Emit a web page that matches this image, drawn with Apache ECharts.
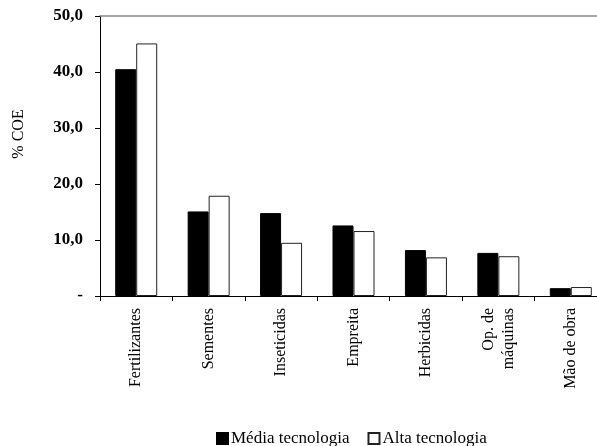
<!DOCTYPE html>
<html>
<head>
<meta charset="utf-8">
<script src="https://cdn.jsdelivr.net/npm/echarts@6/dist/echarts.min.js"></script>
<style>
  html, body { margin: 0; padding: 0; background: #fff; overflow: hidden; }
  /* o gráfico original está cortado à direita, por isso o div é mais largo que a janela */
  #chart { width: 608px; height: 446px; }
</style>
</head>
<body>
<div id="chart"></div>
<script>
  // categorias e valores (% COE)
  const categorias = ['Fertilizantes', 'Sementes', 'Inseticidas', 'Empreita', 'Herbicidas', 'Op. de\nmáquinas', 'Mão de obra'];
  const mediaTec = [40.5, 15.1, 14.8, 12.6, 8.2, 7.7, 1.4];
  const altaTec = [45.1, 17.9, 9.5, 11.6, 6.9, 7.1, 1.6];
  const yTicks = [0, 10, 20, 30, 40, 50];

  const fonte = 'Liberation Serif';
  const chart = echarts.init(document.getElementById('chart'));

  const option = {
    animation: false,
    textStyle: { fontFamily: fonte, color: '#000' },
    grid: { left: 100, top: 16, right: 1, bottom: 150 },
    legend: {
      left: 211,
      top: 425,
      itemWidth: 11,
      itemHeight: 11,
      itemGap: 18,
      textStyle: { fontFamily: fonte, fontSize: 17, color: '#000', padding: [0, 0, 0, -2] },
      data: [
        { name: 'Média tecnologia', icon: 'rect' },
        { name: 'Alta tecnologia', icon: 'rect' }
      ]
    },
    graphic: [{
      type: 'text',
      x: 19,
      y: 134,
      rotation: Math.PI / 2,
      style: {
        text: '% COE',
        fontFamily: fonte,
        fontSize: 16,
        fill: '#000',
        align: 'center',
        verticalAlign: 'middle'
      }
    }],
    xAxis: [{
      type: 'category',
      data: categorias,
      axisLine: { lineStyle: { color: '#000', width: 1 } },
      axisTick: { show: true, length: 5, lineStyle: { color: '#000' } },
      axisLabel: {
        rotate: 90,
        margin: 12,
        fontFamily: fonte,
        fontSize: 16,
        color: '#000',
        lineHeight: 20,
        align: 'right'
      }
    }, {
      // linha superior cinza
      type: 'category',
      position: 'top',
      data: categorias,
      axisLine: { show: true, lineStyle: { color: '#888', width: 1.5 } },
      axisTick: { show: false },
      axisLabel: { show: false }
    }],
    yAxis: {
      type: 'value',
      min: 0,
      max: 50,
      interval: 10,
      axisLine: { show: true, lineStyle: { color: '#000' } },
      axisTick: { show: true, length: 5, lineStyle: { color: '#000' } },
      splitLine: { show: false },
      axisLabel: {
        margin: 17,
        fontFamily: fonte,
        fontSize: 17,
        fontWeight: 'bold',
        color: '#000',
        formatter: function (v) {
          if (yTicks.indexOf(v) < 0) return '';
          return v === 0 ? '-' : v.toFixed(1).replace('.', ',');
        }
      }
    },
    series: [{
      name: 'Média tecnologia',
      type: 'bar',
      data: mediaTec,
      barWidth: 21,
      barGap: '0%',
      itemStyle: { color: '#000', borderColor: '#000', borderWidth: 1 }
    }, {
      name: 'Alta tecnologia',
      type: 'bar',
      data: altaTec,
      barWidth: 21,
      itemStyle: { color: '#fff', borderColor: '#222', borderWidth: 1 }
    }]
  };

  chart.setOption(option);
</script>
</body>
</html>
